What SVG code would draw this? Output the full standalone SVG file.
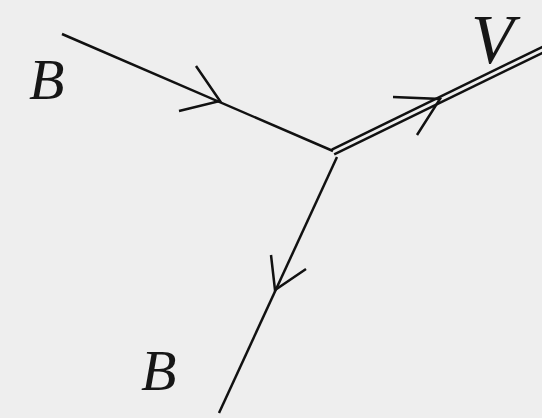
<svg xmlns="http://www.w3.org/2000/svg" width="542" height="418" viewBox="0 0 542 418">
<style>
.ln{stroke:#111;stroke-width:2.5;fill:none;stroke-linecap:butt}
.ch{stroke:#111;stroke-width:2.5;fill:none;stroke-linejoin:miter}
.lbl{font-family:"Liberation Serif","Times New Roman",serif;font-style:italic;fill:#161616}
</style>
<rect width="542" height="418" fill="#eeeeee"/>
<g id="connectors">
<line class="ln" x1="62" y1="34" x2="333" y2="151"/>
<line class="ln" x1="331.8" y1="149.6" x2="545.8" y2="45.2"/>
<line class="ln" x1="334.2" y1="154.4" x2="548.2" y2="50"/>
<line class="ln" x1="337" y1="157" x2="219" y2="413"/>
<polyline class="ch" points="196,66 220,101 179,111"/>
<polyline class="ch" points="393,97 440,99 417,135"/>
<polyline class="ch" points="271,255 275,290 306,269"/>
</g>
<g id="node-B1"><text class="lbl" x="29" y="99" font-size="58">B</text></g>
<g id="node-V"><text class="lbl" x="471" y="63" font-size="70">V</text></g>
<g id="node-B2"><text class="lbl" x="141" y="390" font-size="58">B</text></g>
</svg>
